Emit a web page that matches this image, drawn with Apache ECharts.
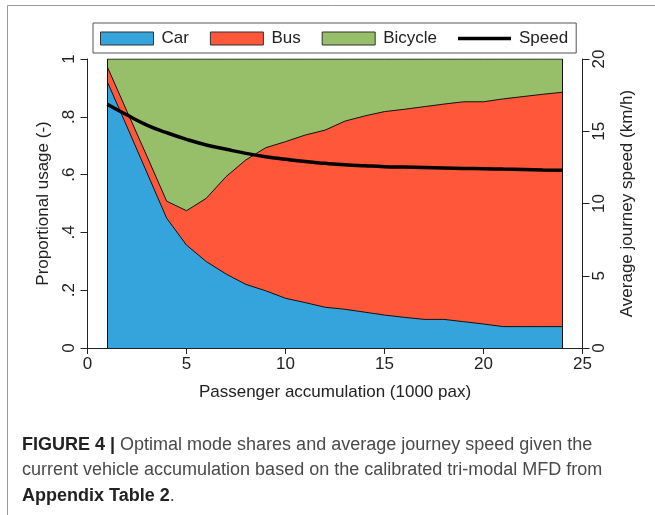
<!DOCTYPE html>
<html><head><meta charset="utf-8">
<script src="https://cdn.jsdelivr.net/npm/echarts@6/dist/echarts.min.js"></script>
<style>html,body{margin:0;padding:0;background:#fff}#c{width:655px;height:515px}</style>
</head><body><div id="c"></div>
<script>
const accumulation = [1,2,3,4,5,6,7,8,9,10,11,12,13,14,15,16,17,18,19,20,21,22,23,24];
const carShare = [0.921,0.765,0.607,0.449,0.356,0.299,0.256,0.220,0.198,0.172,0.157,0.141,0.134,0.124,0.114,0.106,0.099,0.099,0.091,0.083,0.074,0.074,0.074,0.074];
const busShare = [0.052,0.053,0.057,0.059,0.119,0.219,0.337,0.431,0.495,0.542,0.580,0.613,0.651,0.679,0.704,0.720,0.736,0.745,0.761,0.769,0.788,0.796,0.804,0.811];
const bicycleShare = [0.027,0.182,0.336,0.492,0.525,0.482,0.407,0.349,0.307,0.286,0.263,0.246,0.215,0.197,0.182,0.174,0.165,0.156,0.148,0.148,0.138,0.130,0.122,0.115];
const speed = [16.87,16.12,15.43,14.90,14.44,14.05,13.75,13.47,13.24,13.06,12.90,12.78,12.68,12.61,12.55,12.52,12.49,12.46,12.43,12.41,12.38,12.35,12.32,12.30];
const xTicks = [0,5,10,15,20,25];
const captionLines = [
  [{b:true,t:'FIGURE 4 | '},{b:false,t:'Optimal mode shares and average journey speed given the'}],
  [{b:false,t:'current vehicle accumulation based on the calibrated tri-modal MFD from'}],
  [{b:true,t:'Appendix Table 2'},{b:false,t:'.'}]
];

const FONT = 'Liberation Sans, Arial, sans-serif';
const xFirst = accumulation[0], xLast = accumulation[accumulation.length-1];

// cumulative boundaries (drawn as overlapping areas from 0)
const carTop = carShare.slice();
const busTop = carShare.map((c,i)=>+(c + busShare[i]).toFixed(4));
const bicycleTop = busTop.map((b,i)=>+(b + bicycleShare[i]).toFixed(4));
const pairs = arr => accumulation.map((x,i)=>[x,arr[i]]);

function areaSeries(name, data, color, z, extra) {
  return Object.assign({
    name, type:'line', data:pairs(data), symbol:'none',
    lineStyle:{color:'#111', width:1},
    areaStyle:{color:color, opacity:1, origin:'start'},
    itemStyle:{color:color, borderColor:'#333', borderWidth:1},
    emphasis:{disabled:true}, z:z
  }, extra||{});
}

const chart = echarts.init(document.getElementById('c'), null, {renderer:'canvas'});

const captionGraphics = captionLines.map((line, i) => ({
  type:'text', left:22, top:436 + i*25.5,
  style:{
    text: line.map(s => '{' + (s.b?'b':'n') + '|' + s.t + '}').join(''),
    rich: {b:{fontFamily:FONT,fontSize:18,fontWeight:'bold',fill:'#222'}, n:{fontFamily:FONT,fontSize:18,fill:'#4a4a4a'}}
  }
}));

chart.setOption({
  animation:false,
  backgroundColor:'#fff',
  legend:{
    left:93, top:23, padding:[7,8,6,7], itemGap:21, itemWidth:53, itemHeight:13,
    borderColor:'#555', borderWidth:1,
    textStyle:{fontFamily:FONT, fontSize:17, color:'#222', padding:[0,0,0,3]},
    data:[
      {name:'Car', icon:'rect', itemStyle:{borderColor:'#333', borderWidth:1}},
      {name:'Bus', icon:'rect', itemStyle:{borderColor:'#333', borderWidth:1}},
      {name:'Bicycle', icon:'rect', itemStyle:{borderColor:'#333', borderWidth:1}},
      {name:'Speed', icon:'path://M0,0 L53,0 L53,3.5 L0,3.5 Z', itemStyle:{color:'#000'}}
    ],
    selectedMode:false
  },
  grid:{left:87.5, right:72.5, top:59, bottom:167, containLabel:false},
  xAxis:{
    type:'value', min:xTicks[0], max:xTicks[xTicks.length-1], interval:5,
    axisLine:{show:true, lineStyle:{color:'#222', width:1}},
    axisTick:{show:true, length:6, lineStyle:{color:'#222'}},
    axisLabel:{fontFamily:FONT, fontSize:17, color:'#222', margin:8},
    splitLine:{show:false},
    name:'Passenger accumulation (1000 pax)', nameLocation:'middle', nameGap:36,
    nameTextStyle:{fontFamily:FONT, fontSize:17, color:'#222'}
  },
  yAxis:[{
    type:'value', min:0, max:1, interval:0.2, position:'left',
    axisLine:{show:true, lineStyle:{color:'#222', width:1}},
    axisTick:{show:true, length:7, lineStyle:{color:'#222'}},
    axisLabel:{fontFamily:FONT, fontSize:17, color:'#222', rotate:90, margin:10,
      formatter:v => v===0 ? '0' : (v===1 ? '1' : String(+v.toFixed(1)).replace(/^0/, ''))},
    splitLine:{show:false},
    name:'Proportional usage (-)', nameLocation:'middle', nameGap:36, nameRotate:90,
    nameTextStyle:{fontFamily:FONT, fontSize:17, color:'#222'}
  },{
    type:'value', min:0, max:20, interval:5, position:'right',
    axisLine:{show:true, lineStyle:{color:'#222', width:1}},
    axisTick:{show:true, length:7, lineStyle:{color:'#222'}},
    axisLabel:{fontFamily:FONT, fontSize:17, color:'#222', rotate:90, margin:8},
    splitLine:{show:false},
    name:'Average journey speed (km/h)', nameLocation:'middle', nameGap:36, nameRotate:90,
    nameTextStyle:{fontFamily:FONT, fontSize:17, color:'#222'}
  }],
  series:[
    areaSeries('Bicycle', bicycleTop, '#97bf69', 1, {
      markLine:{symbol:'none', silent:true, label:{show:false}, lineStyle:{color:'#111', width:1, type:'solid'},
        data:[
          [{coord:[xFirst,0]},{coord:[xFirst,bicycleTop[0]]}],
          [{coord:[xLast,0]},{coord:[xLast,bicycleTop[bicycleTop.length-1]]}]
        ]}
    }),
    areaSeries('Bus', busTop, '#fe5739', 2),
    areaSeries('Car', carTop, '#35a4dc', 3),
    {name:'Speed', type:'line', yAxisIndex:1, data:pairs(speed), symbol:'none', smooth:true,
     lineStyle:{color:'#000', width:3.5}, itemStyle:{color:'#000'}, z:5, emphasis:{disabled:true}}
  ],
  graphic:[
    {type:'line', shape:{x1:7.5,y1:5.5,x2:7.5,y2:515}, style:{stroke:'#999', lineWidth:1}},
    {type:'line', shape:{x1:7.5,y1:5.5,x2:655,y2:5.5}, style:{stroke:'#999', lineWidth:1}}
  ].concat(captionGraphics)
});
</script></body></html>
